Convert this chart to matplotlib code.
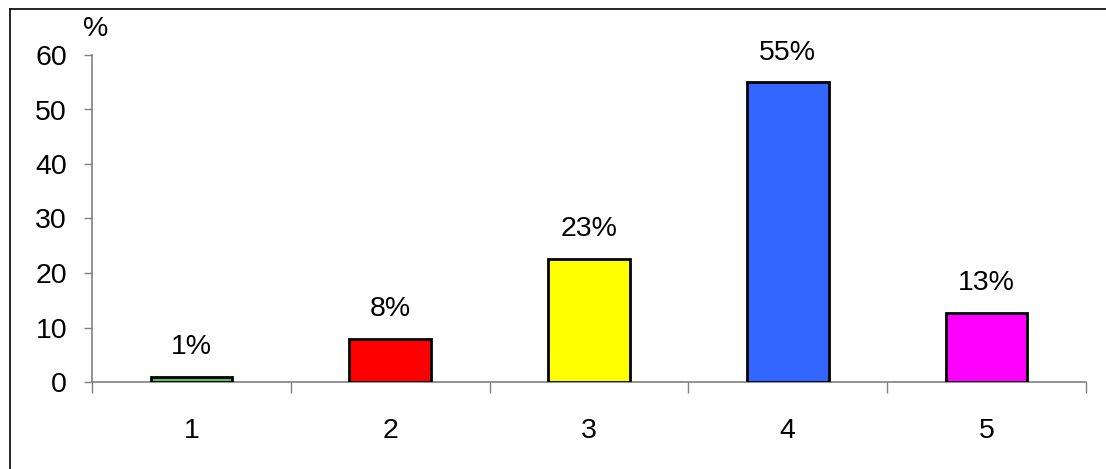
import matplotlib.pyplot as plt
from matplotlib.lines import Line2D

# data
categories = ["1", "2", "3", "4", "5"]
values = [1.0, 7.9, 22.6, 55.0, 12.7]
labels = ["1%", "8%", "23%", "55%", "13%"]
colors = ["#5fbf5f", "#ff0000", "#ffff00", "#3366ff", "#ff00ff"]

plt.rcParams['font.family'] = ['Liberation Sans', 'DejaVu Sans']
fs = 20.5

fig = plt.figure(figsize=(11.06, 4.69), dpi=100)
ax = fig.add_axes([92 / 1106, 87 / 469, 994 / 1106, 327 / 469])

x = list(range(len(categories)))
bars = ax.bar(x, values, width=0.41, color=colors, edgecolor="black", linewidth=2, zorder=3)

for b, lab in zip(bars, labels):
    ax.annotate(lab, (b.get_x() + b.get_width() / 2, b.get_height()),
                xytext=(0, 12), textcoords="offset points",
                ha="center", va="bottom", fontsize=fs)

ax.set_xlim(-0.5, len(categories) - 0.5)
ax.set_ylim(0, 60)
ax.set_yticks(range(0, 61, 10))
ax.set_xticks(x)
ax.set_xticklabels(categories)
ax.set_xticks([i - 0.5 for i in range(len(categories) + 1)], minor=True)

ax.tick_params(axis="y", labelsize=fs, length=6, width=1, color="#808080", pad=12)
ax.tick_params(axis="x", which="major", labelsize=fs, length=0, pad=26)
ax.tick_params(axis="x", which="minor", length=8, width=1, color="#808080")

for s in ["top", "right"]:
    ax.spines[s].set_visible(False)
for s in ["left", "bottom"]:
    ax.spines[s].set_color("#808080")
    ax.spines[s].set_linewidth(1.2)

ax.text(-0.009, 1.04, "%", transform=ax.transAxes, fontsize=fs, ha="left", va="bottom")

# outer frame (left and top edges visible)
fig.add_artist(Line2D([10 / 1106, 10 / 1106], [0, 1 - 9 / 469], color="black", lw=1.2, transform=fig.transFigure))
fig.add_artist(Line2D([10 / 1106, 1], [1 - 9 / 469, 1 - 9 / 469], color="black", lw=1.2, transform=fig.transFigure))

fig.savefig("out.png", dpi=100)
